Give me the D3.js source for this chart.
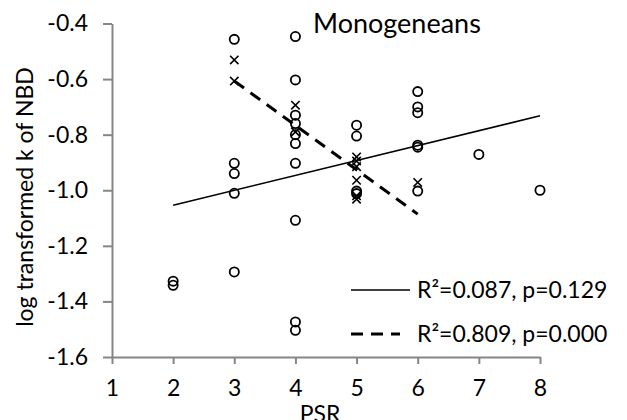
<!DOCTYPE html>
<html>
<head>
<meta charset="utf-8">
<script src="https://cdn.jsdelivr.net/npm/d3@7"></script>
<style>
  body { margin: 0; background: #fff; }
  svg { display: block; font-family: Lato, "Open Sans", sans-serif; }
</style>
</head>
<body>
<div id="chart"></div>
<script>
// Data: PSR (x) vs log transformed k of NBD (y)
const circleX = [2, 2, 3, 3, 3, 3, 3, 4, 4, 4, 4, 4, 4, 4, 4, 4, 4, 5, 5, 5, 5, 6, 6, 6, 6, 6, 6, 7, 8];
const circleY = [-1.327, -1.342, -0.457, -0.903, -0.940, -1.011, -1.294,
                 -0.447, -0.603, -0.730, -0.760, -0.800, -0.832, -0.903, -1.108, -1.474, -1.504,
                 -0.766, -0.805, -1.003, -1.012,
                 -0.645, -0.700, -0.721, -0.838, -0.845, -1.003, -0.871, -1.000];
const crossX = [3, 3, 4, 4, 5, 5, 5, 5, 5, 5, 6];
const crossY = [-0.531, -0.607, -0.694, -0.790, -0.880, -0.895, -0.915, -0.964, -1.020, -1.032, -0.972];

// fitted lines (end points)
const fitAllX = [2, 8];
const fitAllY = [-1.054, -0.732];
const fitCrossX = [3, 6];
const fitCrossY = [-0.607, -1.086];

const xTicks = [1, 2, 3, 4, 5, 6, 7, 8];
const yTicks = [-1.6, -1.4, -1.2, -1.0, -0.8, -0.6, -0.4];
const legendLabels = ["R\u00b2=0.087, p=0.129", "R\u00b2=0.809, p=0.000"];

const width = 627, height = 420;
const axisColor = "#868686";

const svg = d3.select("#chart").append("svg")
    .attr("width", width)
    .attr("height", height);

const x = d3.scaleLinear().domain([1, 8]).range([112, 540]);
const y = d3.scaleLinear().domain([-1.6, -0.4]).range([357, 23.5]);

const fmt = d => d3.format(".1f")(d).replace("\u2212", "-");

// axes
const yAxis = svg.append("g")
    .attr("transform", `translate(${x(1)},0)`)
    .call(d3.axisLeft(y).tickValues(yTicks).tickFormat(fmt).tickSize(9).tickSizeOuter(0).tickPadding(15));

const xAxis = svg.append("g")
    .attr("transform", `translate(0,${y(-1.6)})`)
    .call(d3.axisBottom(x).tickValues(xTicks).tickFormat(d3.format("d")).tickSize(7).tickSizeOuter(0).tickPadding(16));

[yAxis, xAxis].forEach(g => {
    g.select(".domain").attr("stroke", axisColor).attr("stroke-width", 2);
    g.selectAll(".tick line").attr("stroke", axisColor).attr("stroke-width", 2);
    g.selectAll(".tick text").attr("fill", "#000").style("font-size", "23px").style("font-family", "Lato, sans-serif");
});

// axis titles
svg.append("text")
    .attr("transform", `translate(33,197) rotate(-90)`)
    .attr("text-anchor", "middle")
    .style("font-size", "23px")
    .text("log transformed k of NBD");

svg.append("text")
    .attr("x", 320)
    .attr("y", 422)
    .attr("text-anchor", "middle")
    .style("font-size", "23px")
    .text("PSR");

// chart title
svg.append("text")
    .attr("x", 313)
    .attr("y", 33)
    .style("font-size", "27px")
    .text("Monogeneans");

// regression lines
const line = d3.line().x(d => x(d[0])).y(d => y(d[1]));

svg.append("path")
    .datum(d3.zip(fitAllX, fitAllY))
    .attr("d", line)
    .attr("fill", "none")
    .attr("stroke", "#000")
    .attr("stroke-width", 1.6);

svg.append("path")
    .datum(d3.zip(fitCrossX, fitCrossY))
    .attr("d", line)
    .attr("fill", "none")
    .attr("stroke", "#000")
    .attr("stroke-width", 3)
    .attr("stroke-dasharray", "12,8");

// circle points
svg.append("g")
    .selectAll("circle")
    .data(d3.zip(circleX, circleY))
    .join("circle")
    .attr("cx", d => x(d[0]))
    .attr("cy", d => y(d[1]))
    .attr("r", 4.6)
    .attr("fill", "none")
    .attr("stroke", "#000")
    .attr("stroke-width", 1.8);

// cross points
const s = 4.2;
svg.append("g")
    .selectAll("path")
    .data(d3.zip(crossX, crossY))
    .join("path")
    .attr("d", d => {
        const cx = x(d[0]), cy = y(d[1]);
        return `M${cx - s},${cy - s}L${cx + s},${cy + s}M${cx - s},${cy + s}L${cx + s},${cy - s}`;
    })
    .attr("stroke", "#000")
    .attr("stroke-width", 1.6);

// legend
const legend = svg.append("g");
const legendY = [290, 334];
legend.selectAll("line")
    .data(legendY)
    .join("line")
    .attr("x1", 351)
    .attr("x2", (d, i) => i === 0 ? 410 : 400)
    .attr("y1", d => d)
    .attr("y2", d => d)
    .attr("stroke", "#000")
    .attr("stroke-width", (d, i) => i === 0 ? 1.6 : 3)
    .attr("stroke-dasharray", (d, i) => i === 0 ? null : "12,8");

legend.selectAll("text")
    .data(legendLabels)
    .join("text")
    .attr("x", 417)
    .attr("y", (d, i) => legendY[i] + 8)
    .style("font-size", "23px")
    .text(d => d);
</script>
</body>
</html>
